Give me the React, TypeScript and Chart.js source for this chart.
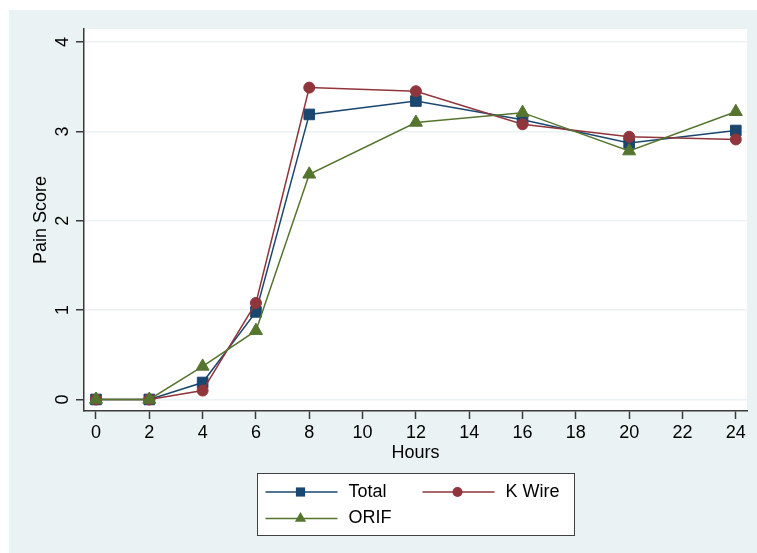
import React, { useEffect, useRef } from 'react';
import { Chart, registerables } from 'chart.js';

Chart.register(...registerables);

// ---- data ----
const hours = [0, 2, 4, 6, 8, 12, 16, 20, 24];
const totalScores = [0, 0, 0.19, 0.98, 3.19, 3.34, 3.13, 2.87, 3.01];
const kWireScores = [0, 0, 0.1, 1.08, 3.49, 3.45, 3.08, 2.94, 2.91];
const orifScores = [0, 0, 0.37, 0.77, 2.52, 3.1, 3.21, 2.78, 3.22];
const xTickValues = [0, 2, 4, 6, 8, 10, 12, 14, 16, 18, 20, 22, 24];
const yTickValues = [0, 1, 2, 3, 4];
const seriesNames = ['Total', 'K Wire', 'ORIF'];

const W = 757;
const H = 553;
const FONT = '"Liberation Sans", Arial, Helvetica, sans-serif';
const COLORS = ['#1A476F', '#90353B', '#55752F'];
const BG = '#EAF2F3';
const AXIS = '#3a3a3a';

function drawMarker(ctx: CanvasRenderingContext2D, style: string, x: number, y: number, r: number, color: string) {
  ctx.fillStyle = color;
  ctx.beginPath();
  if (style === 'rect') {
    const s = r * Math.SQRT1_2;
    ctx.rect(x - s, y - s, 2 * s, 2 * s);
  } else if (style === 'circle') {
    ctx.arc(x, y, r, 0, Math.PI * 2);
  } else {
    const w = r * Math.sin((2 * Math.PI) / 3);
    ctx.moveTo(x, y - r);
    ctx.lineTo(x + w, y + r / 2);
    ctx.lineTo(x - w, y + r / 2);
    ctx.closePath();
  }
  ctx.fill();
}

const bgPlugin = {
  id: 'stataBg',
  beforeDraw(chart: any) {
    const { ctx, chartArea: a } = chart;
    ctx.save();
    ctx.fillStyle = '#ffffff';
    ctx.fillRect(0, 0, W, H);
    ctx.fillStyle = BG;
    ctx.fillRect(9, 10, W - 9, H - 10);
    ctx.fillStyle = '#ffffff';
    ctx.fillRect(a.left, a.top, a.right - a.left, a.bottom - a.top);
    ctx.restore();
  },
};

const legendPlugin = {
  id: 'stataLegend',
  afterDraw(chart: any) {
    const { ctx, chartArea: a } = chart;
    const cx = (a.left + a.right) / 2;
    const bw = 317;
    const bh = 62;
    const bx = Math.round(cx - bw / 2) + 0.5;
    const by = 473.5;
    ctx.save();
    ctx.fillStyle = '#ffffff';
    ctx.fillRect(bx, by, bw, bh);
    ctx.strokeStyle = '#404040';
    ctx.lineWidth = 1;
    ctx.strokeRect(bx, by, bw, bh);

    const styles = ['rect', 'circle', 'triangle'];
    const radii = [6.5, 5, 6.5];
    const items = [
      { col: 0, row: 0 },
      { col: 1, row: 0 },
      { col: 0, row: 1 },
    ];
    ctx.font = '18px ' + FONT;
    ctx.textBaseline = 'middle';
    ctx.textAlign = 'left';
    items.forEach((it, i) => {
      const ox = bx + it.col * 157;
      const y = by + 18.5 + it.row * 26.5;
      ctx.strokeStyle = COLORS[i];
      ctx.lineWidth = 1.5;
      ctx.beginPath();
      ctx.moveTo(ox + 8, y);
      ctx.lineTo(ox + 80, y);
      ctx.stroke();
      drawMarker(ctx, styles[i], ox + 43, y, radii[i], COLORS[i]);
      ctx.fillStyle = '#000';
      ctx.fillText(seriesNames[i], ox + 91, y);
    });
    ctx.restore();
  },
};

export default function App() {
  const ref = useRef<HTMLCanvasElement | null>(null);

  useEffect(() => {
    if (!ref.current) return;
    const seriesValues = [totalScores, kWireScores, orifScores];
    const pointStyles = ['rect', 'circle', 'triangle'];
    const pointRadii = [7.5, 5.5, 7.5];
    const orders = [3, 2, 1];
    const chart = new Chart(ref.current, {
      type: 'line',
      data: {
        datasets: seriesNames.map((name, i) => ({
          label: name,
          data: hours.map((h, j) => ({ x: h, y: seriesValues[i][j] })),
          borderColor: COLORS[i],
          backgroundColor: COLORS[i],
          pointBackgroundColor: COLORS[i],
          pointBorderColor: COLORS[i],
          pointStyle: pointStyles[i] as any,
          pointRadius: pointRadii[i],
          pointBorderWidth: 1,
          borderWidth: 1.5,
          tension: 0,
          fill: false,
          order: orders[i],
        })),
      },
      options: {
        animation: false,
        responsive: false,
        devicePixelRatio: 1,
        layout: { padding: { top: 29, right: 10, left: 0, bottom: 0 } },
        plugins: {
          legend: { display: false },
          tooltip: { enabled: false },
        },
        scales: {
          x: {
            type: 'linear',
            min: -0.45,
            max: 24.42,
            afterBuildTicks: (s: any) => {
              s.ticks = xTickValues.map((v) => ({ value: v }));
            },
            afterFit: (s: any) => {
              s.height = 142;
            },
            ticks: {
              font: { family: FONT, size: 18 },
              color: '#000',
              padding: 3,
              maxRotation: 0,
              minRotation: 0,
              autoSkip: false,
            },
            grid: {
              drawOnChartArea: false,
              tickLength: 8,
              tickColor: AXIS,
              tickWidth: 1.5,
            },
            border: { color: AXIS, width: 1.5 },
            title: {
              display: true,
              text: 'Hours',
              color: '#000',
              font: { family: FONT, size: 18 },
              padding: { top: 0, bottom: 89 },
            },
          },
          y: {
            type: 'linear',
            min: -0.129,
            max: 4.146,
            afterBuildTicks: (s: any) => {
              s.ticks = yTickValues.map((v) => ({ value: v }));
            },
            afterFit: (s: any) => {
              s.width = 84;
            },
            ticks: {
              font: { family: FONT, size: 18 },
              color: '#000',
              padding: 8,
              minRotation: 90,
              maxRotation: 90,
              crossAlign: 'center',
              autoSkip: false,
            },
            grid: {
              color: BG,
              lineWidth: 1.5,
              tickLength: 8,
              tickColor: AXIS,
              tickWidth: 1.5,
            },
            border: { color: AXIS, width: 1.5 },
            title: {
              display: true,
              text: 'Pain Score',
              color: '#000',
              font: { family: FONT, size: 18 },
              padding: { top: 30, bottom: 0 },
            },
          },
        },
      } as any,
      plugins: [bgPlugin, legendPlugin],
    });
    return () => chart.destroy();
  }, []);

  return (
    <div style={{ position: 'absolute', left: 0, top: 0, width: W, height: H }}>
      <canvas ref={ref} width={W} height={H} style={{ display: 'block', width: W, height: H }} />
    </div>
  );
}
